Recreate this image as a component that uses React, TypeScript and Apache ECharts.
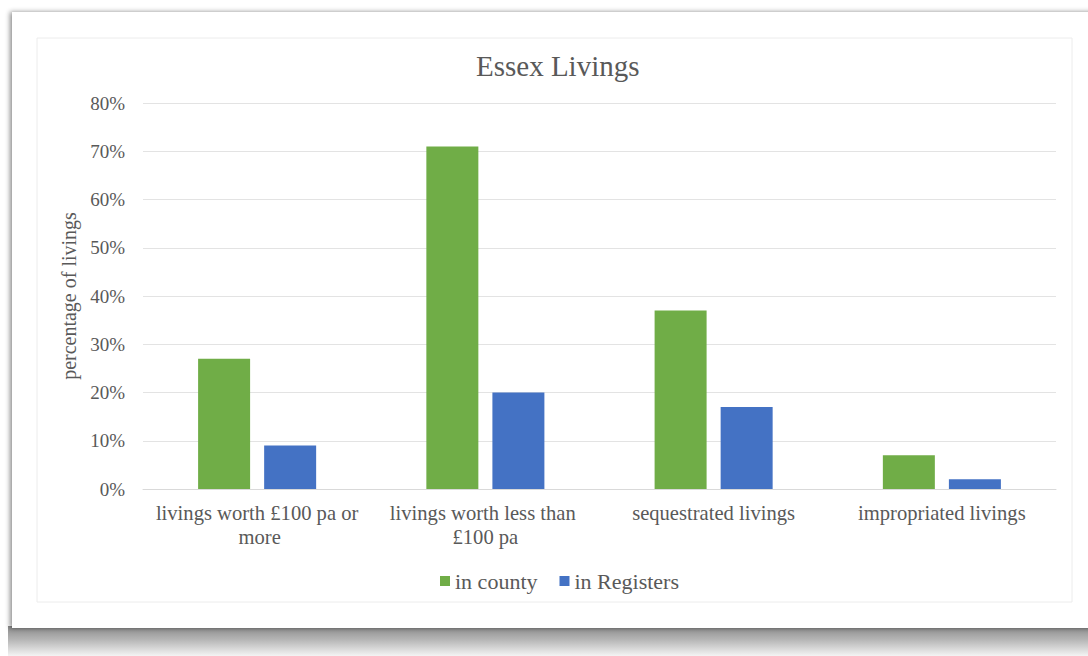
import React, { useEffect, useRef } from "react";
import * as echarts from "echarts";

const categories = [
  "livings worth £100 pa or more",
  "livings worth less than £100 pa",
  "sequestrated livings",
  "impropriated livings",
];
const inCounty = [27, 71, 37, 7];
const inRegisters = [9, 20, 17, 2];
const seriesNames = ["in county", "in Registers"];
const titleText = "Essex Livings";
const yAxisName = "percentage of livings";

const FONT = "Liberation Serif";
const TXT = "#595959";

export default function App() {
  const ref = useRef<HTMLDivElement>(null);
  useEffect(() => {
    if (!ref.current) return;
    const chart = echarts.init(ref.current, null, { renderer: "svg" });
    chart.setOption({
      animation: false,
      backgroundColor: "#ffffff",
      graphic: [
        {
          type: "rect",
          z: -10,
          shape: { x: 8, y: 626, width: 1080, height: 30 },
          style: {
            fill: new echarts.graphic.LinearGradient(0, 0, 0, 1, [
              { offset: 0, color: "#8a8a8a" },
              { offset: 0.45, color: "#b5b5b5" },
              { offset: 1, color: "#f4f4f4" },
            ]),
          },
        },
        {
          type: "rect",
          z: -9,
          shape: { x: 12, y: 12, width: 1090, height: 616 },
          style: {
            fill: "#ffffff",
            shadowBlur: 5,
            shadowColor: "rgba(0,0,0,0.45)",
            shadowOffsetX: -2,
            shadowOffsetY: 0,
          },
        },
        {
          type: "rect",
          z: -8,
          shape: { x: 37, y: 38, width: 1035, height: 564 },
          style: { fill: "#ffffff", stroke: "#ececec", lineWidth: 1 },
        },
      ],
      title: {
        text: titleText,
        left: 471,
        top: 46,
        textStyle: {
          fontFamily: FONT,
          fontSize: 29,
          fontWeight: "normal",
          color: TXT,
        },
      },
      legend: {
        data: seriesNames,
        left: 435,
        top: 565,
        icon: "rect",
        itemWidth: 10,
        itemHeight: 10,
        itemGap: 22,
        textStyle: { fontFamily: FONT, fontSize: 22, color: TXT },
      },
      grid: { left: 143, right: 32, top: 103, bottom: 167, containLabel: false },
      xAxis: {
        type: "category",
        data: categories,
        axisTick: { show: false },
        axisLine: { show: true, lineStyle: { color: "#d9d9d9", width: 1 } },
        axisLabel: {
          fontFamily: FONT,
          fontSize: 20.6,
          color: TXT,
          margin: 12,
          lineHeight: 24,
          width: 214,
          overflow: "break",
          interval: 0,
        },
      },
      yAxis: {
        type: "value",
        min: 0,
        max: 80,
        interval: 10,
        name: yAxisName,
        nameLocation: "middle",
        nameRotate: 90,
        nameGap: 63,
        nameTextStyle: { fontFamily: FONT, fontSize: 20, color: TXT },
        axisLine: { show: false },
        axisTick: { show: false },
        axisLabel: {
          formatter: "{value}%",
          fontFamily: FONT,
          fontSize: 19,
          color: TXT,
          margin: 18,
        },
        splitLine: { lineStyle: { color: "#e3e3e3", width: 1 } },
      },
      series: [
        {
          name: seriesNames[0],
          type: "bar",
          data: inCounty,
          barWidth: 52,
          barGap: "27%",
          itemStyle: { color: "#70AD47" },
        },
        {
          name: seriesNames[1],
          type: "bar",
          data: inRegisters,
          barWidth: 52,
          barGap: "27%",
          itemStyle: { color: "#4472C4" },
        },
      ],
    });
    return () => chart.dispose();
  }, []);
  return (
    <div
      ref={ref}
      style={{ position: "absolute", left: 0, top: 0, width: 1088, height: 656 }}
    />
  );
}
